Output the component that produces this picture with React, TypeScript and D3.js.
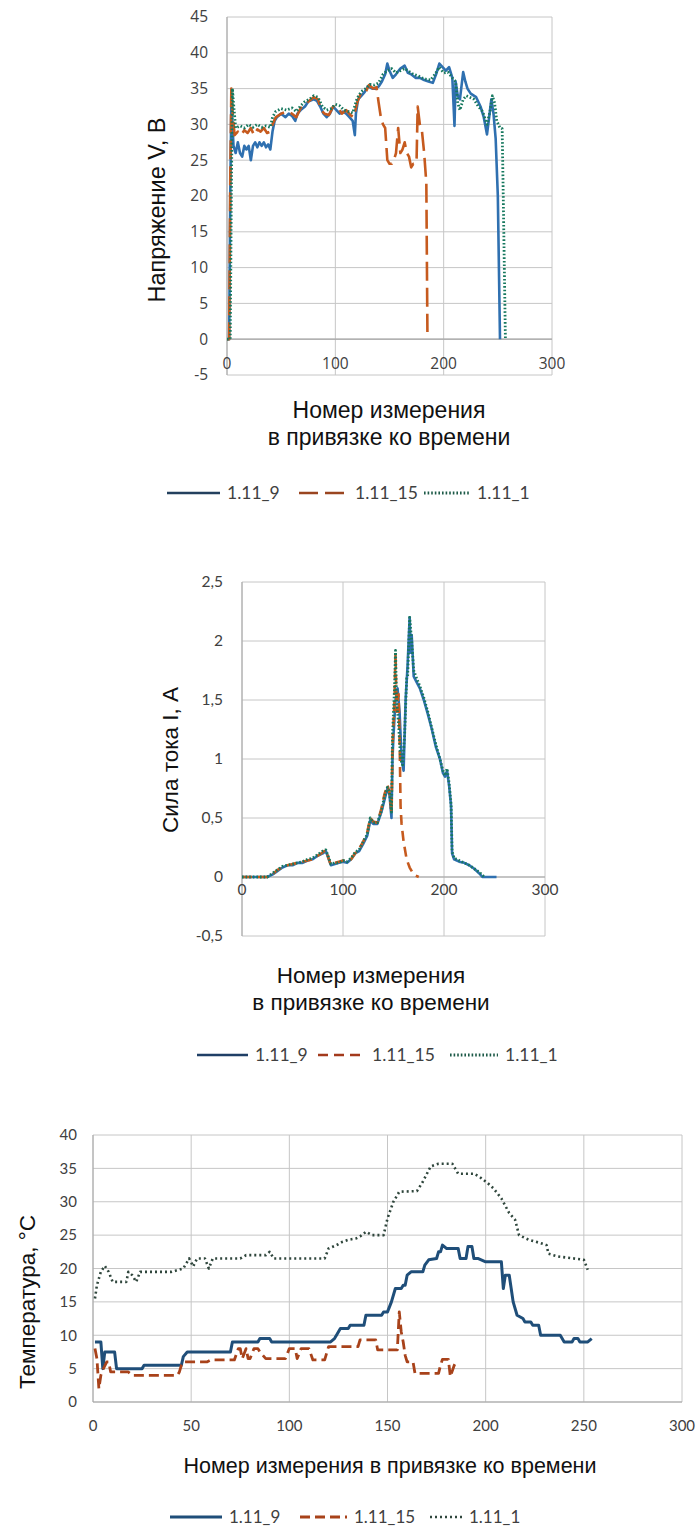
import React from 'react';
import * as d3 from 'd3';

type Pt = [number, number];

// ---------- voltage, chart 1 ----------
const voltage_9: Pt[] = [
  [0, 0], [2, 0], [3, 20], [4, 33], [5, 30], [6, 27], [8, 26], [10, 27.5], [12, 26], [14, 25.5], [16, 27], [18, 26.5],
  [20, 27], [22, 25], [24, 27], [26, 27.5], [28, 26.8], [30, 27.5], [32, 27], [34, 27.5], [36, 26.8], [38, 27.2],
  [40, 26.5], [42, 29], [44, 30.5], [46, 31], [50, 31.5], [54, 31], [57, 31.5], [60, 31.2], [63, 30.5], [65, 31.5],
  [68, 32], [72, 32.5], [75, 33.2], [80, 33.5], [83, 33.3], [86, 32.5], [89, 31.5], [92, 31], [95, 31.5], [98, 32.5],
  [101, 32], [104, 31.5], [107, 31.8], [110, 31.5], [113, 31], [116, 30.5], [118, 28.5], [119, 31.5], [121, 33.5],
  [124, 34], [127, 34.5], [130, 35.3], [134, 35], [137, 35], [140, 35.3], [143, 36], [146, 37], [148, 38.5],
  [150, 37.5], [153, 36.5], [156, 37], [160, 37.8], [164, 38.2], [167, 37.2], [170, 37], [174, 36.5], [178, 36.5],
  [182, 36.2], [186, 36], [190, 35.8], [193, 37], [196, 38.5], [199, 38], [202, 37.5], [205, 38], [208, 36.5],
  [210, 29.8], [211, 36], [213, 34], [215, 33.5], [218, 37.3], [220, 36], [222, 35], [225, 34.3], [230, 33.8],
  [234, 32.5], [237, 31], [240, 28.6], [242, 31], [244, 33.5], [246, 31.5], [248, 28], [250, 20], [251, 10], [252, 0],
];
const voltage_15: Pt[] = [
  [0, 0], [2, 0], [3, 22], [4, 35], [5, 32], [7, 28.5], [10, 29], [13, 28.5], [16, 29.2], [19, 28.8], [22, 29.5],
  [25, 28.5], [28, 29.3], [31, 29], [34, 29.5], [37, 28.8], [40, 29], [42, 30], [45, 31], [50, 31.5], [55, 31.8],
  [60, 31.5], [64, 31], [68, 32.3], [72, 32.8], [76, 33.3], [80, 33.8], [84, 33.5], [87, 32], [90, 31.5], [94, 31.3],
  [98, 32.5], [102, 32.5], [106, 31.5], [110, 32], [114, 31.3], [117, 31], [120, 33], [124, 34.5], [128, 34.5],
  [131, 35.5], [135, 35], [138, 35.2], [140, 33], [142, 31], [144, 30], [146, 29.5], [148, 25], [150, 24.5],
  [152, 24.5], [154, 25], [156, 26], [158, 29.5], [160, 26], [162, 26.5], [164, 27.5], [166, 26], [168, 25.5],
  [170, 24], [172, 24.5], [174, 24.5], [175, 25], [176, 32.5], [178, 30], [180, 29], [182, 26], [184, 21.8], [185, 1],
];
const voltage_1: Pt[] = [
  [0, 0], [3, 0], [4, 20], [5, 35], [6, 33], [8, 29.5], [12, 29.8], [16, 29.5], [20, 30], [24, 29.6], [28, 30],
  [32, 29.6], [36, 29.8], [40, 29.6], [42, 31], [45, 31.8], [50, 32.2], [55, 32], [60, 32.3], [64, 31.8], [68, 32.6],
  [72, 33.2], [76, 33.5], [80, 34], [84, 33.8], [88, 32.5], [92, 32], [96, 32.2], [100, 32.8], [104, 32.6], [108, 32],
  [112, 31.8], [116, 31.6], [120, 33.6], [124, 34.6], [128, 35], [132, 35.6], [136, 35.5], [140, 35.8], [144, 37],
  [148, 37.5], [152, 37.8], [156, 37.2], [160, 37.5], [164, 37.8], [168, 37.4], [172, 37], [176, 36.8], [180, 36.5],
  [184, 36.3], [188, 36.2], [192, 37], [196, 38], [200, 37.2], [204, 37.3], [208, 36.5], [211, 36], [213, 33],
  [215, 32], [218, 33.5], [221, 34], [224, 33.8], [228, 33.5], [232, 32.5], [236, 31.8], [240, 30], [243, 32],
  [245, 34], [247, 33], [249, 30.5], [252, 29.5], [254, 29.4], [255, 20], [256, 10], [257, 0],
];

// ---------- current, chart 2 ----------
const current_9: Pt[] = [
  [0, 0], [25, 0], [30, 0.02], [35, 0.05], [40, 0.08], [45, 0.1], [50, 0.1], [55, 0.12], [60, 0.12], [65, 0.14],
  [70, 0.15], [75, 0.18], [80, 0.2], [83, 0.22], [86, 0.15], [88, 0.1], [92, 0.11], [96, 0.12], [100, 0.13],
  [104, 0.12], [108, 0.15], [112, 0.2], [116, 0.22], [120, 0.28], [124, 0.35], [127, 0.48], [130, 0.45], [134, 0.45],
  [138, 0.55], [141, 0.65], [144, 0.75], [146, 0.7], [148, 0.5], [149, 1.0], [150, 1.2], [152, 1.5], [154, 1.6],
  [156, 1.4], [158, 1.0], [160, 0.9], [162, 1.5], [164, 1.8], [166, 2.2], [167, 1.9], [168, 2.05], [170, 1.7],
  [173, 1.65], [176, 1.6], [180, 1.5], [184, 1.38], [188, 1.25], [192, 1.1], [196, 1.0], [199, 0.88], [201, 0.85],
  [203, 0.9], [205, 0.78], [207, 0.6], [208, 0.2], [210, 0.15], [215, 0.13], [220, 0.12], [225, 0.1], [230, 0.07],
  [235, 0.03], [238, 0], [252, 0],
];
const current_15: Pt[] = [
  [0, 0], [25, 0], [30, 0.02], [35, 0.06], [40, 0.08], [45, 0.1], [50, 0.11], [55, 0.12], [60, 0.13], [65, 0.14],
  [70, 0.15], [75, 0.18], [80, 0.21], [83, 0.23], [86, 0.15], [88, 0.1], [92, 0.12], [96, 0.13], [100, 0.14],
  [104, 0.13], [108, 0.15], [112, 0.2], [116, 0.24], [120, 0.3], [124, 0.38], [127, 0.5], [130, 0.47], [134, 0.46],
  [138, 0.58], [141, 0.7], [144, 0.78], [146, 0.72], [148, 0.55], [149, 1.1], [151, 1.5], [152, 1.9], [153, 1.4],
  [155, 1.55], [156, 1.2], [157, 0.6], [158, 0.45], [160, 0.3], [163, 0.15], [166, 0.08], [170, 0.02], [175, 0],
];
const current_1: Pt[] = [
  [0, 0], [25, 0], [30, 0.03], [35, 0.06], [40, 0.09], [45, 0.1], [50, 0.11], [55, 0.12], [60, 0.13], [65, 0.15],
  [70, 0.16], [75, 0.19], [80, 0.22], [83, 0.23], [86, 0.16], [88, 0.11], [92, 0.12], [96, 0.12], [100, 0.14],
  [104, 0.13], [108, 0.16], [112, 0.21], [116, 0.23], [120, 0.3], [124, 0.36], [127, 0.5], [130, 0.46], [134, 0.46],
  [138, 0.56], [141, 0.68], [144, 0.76], [146, 0.72], [148, 0.55], [149, 1.2], [151, 1.6], [152, 1.92], [153, 1.5],
  [155, 1.3], [157, 1.0], [159, 0.95], [161, 1.2], [163, 1.68], [164, 1.7], [166, 2.2], [168, 2.0], [170, 1.75],
  [173, 1.68], [176, 1.62], [180, 1.52], [184, 1.4], [188, 1.26], [192, 1.12], [196, 1.0], [199, 0.9], [201, 0.86],
  [203, 0.92], [205, 0.8], [207, 0.62], [208, 0.22], [210, 0.16], [215, 0.14], [220, 0.12], [225, 0.1], [230, 0.07],
  [235, 0.04], [240, 0],
];

// ---------- temperature, chart 3 ----------
const temp_9: Pt[] = [
  [1, 9], [4, 9], [5, 5], [6, 7.5], [11, 7.5], [12, 5], [25, 5], [26, 5.5], [45, 5.5], [46, 6.8], [48, 7.5], [70, 7.5],
  [71, 9], [84, 9], [85, 9.5], [90, 9.5], [91, 9], [121, 9], [123, 9.5], [124, 10], [126, 11], [130, 11], [131, 11.5],
  [138, 11.5], [139, 13], [147, 13], [148, 13.5], [150, 13.5], [152, 15], [154, 17], [157, 17], [158, 17.5],
  [159, 17.5], [160, 19], [162, 19.5], [168, 19.5], [169, 20.5], [171, 21.3], [175, 21.5], [176, 22.5], [177, 22.5],
  [178, 23.5], [180, 23], [186, 23], [187, 21.5], [190, 21.5], [191, 23.3], [193, 23.3], [194, 21.5], [196, 21.5],
  [200, 21], [208, 21], [209, 17], [210, 19], [212, 19], [213, 17], [214, 15], [216, 13], [219, 12.5], [220, 12],
  [223, 12], [224, 11.5], [227, 11.5], [228, 10], [238, 10], [240, 9], [244, 9], [245, 9.5], [247, 9.5], [248, 9],
  [252, 9], [254, 9.5],
];
const temp_15: Pt[] = [
  [1, 8], [2, 6.5], [3, 2], [4, 4], [5, 4.8], [7, 6], [8, 6], [9, 4.5], [18, 4.5], [20, 4], [43, 4], [44, 4.5],
  [45, 5.5], [46, 6], [58, 6], [60, 6.3], [72, 6.3], [74, 8], [75, 8], [76, 6.5], [78, 8], [79, 6.5], [80, 6.5],
  [82, 8], [84, 8], [85, 7.5], [88, 6.5], [98, 6.5], [100, 8], [103, 8], [104, 6.5], [106, 8], [110, 8], [112, 6.3],
  [118, 6.3], [120, 8.3], [135, 8.3], [136, 9.3], [144, 9.3], [145, 7.8], [155, 7.8], [156, 13.5], [157, 10.5],
  [158, 9], [159, 7], [160, 6], [163, 6], [164, 4.3], [176, 4.3], [177, 5.5], [178, 6.4], [181, 6.4], [182, 3.8],
  [184, 5.5], [185, 6],
];
const temp_1: Pt[] = [
  [1, 15.5], [2, 17.5], [4, 19.5], [6, 20.4], [8, 19.5], [10, 18], [17, 18], [18, 19.5], [20, 19], [22, 18],
  [24, 19.5], [40, 19.5], [46, 20], [49, 21.5], [51, 20.3], [53, 21.5], [57, 21.5], [59, 20], [61, 21.5], [75, 21.5],
  [78, 22], [88, 22], [90, 22.5], [92, 21.5], [118, 21.5], [120, 23], [124, 23.5], [127, 24], [130, 24.3], [134, 24.5],
  [136, 24.8], [139, 25.5], [142, 25], [148, 25], [150, 27.5], [153, 30], [156, 31.5], [165, 31.6], [168, 33],
  [172, 35.3], [176, 35.7], [183, 35.7], [186, 34.2], [194, 34.2], [197, 33.7], [201, 32.8], [204, 32], [208, 30.5],
  [212, 28.3], [215, 27.3], [217, 25], [222, 24.3], [228, 23.8], [231, 23.5], [232, 22.2], [237, 21.8], [245, 21.5],
  [250, 21.3], [252, 19.8],
];

const seriesNames = ['1.11_9', '1.11_15', '1.11_1'];
const voltTicks = [-5, 0, 5, 10, 15, 20, 25, 30, 35, 40, 45];
const currentTicks = [-0.5, 0, 0.5, 1, 1.5, 2, 2.5];
const tempTicks = [0, 5, 10, 15, 20, 25, 30, 35, 40];
const xTicksWide = [0, 100, 200, 300];
const xTicksTemp = [0, 50, 100, 150, 200, 250, 300];

type LineStyle = { color: string; width: number; dash?: string; legendColor?: string };

const stylesVolt: LineStyle[] = [
  { color: '#2f70b0', width: 2.6, legendColor: '#23405e' },
  { color: '#c65a1e', width: 2.6, dash: '19 7', legendColor: '#9a4520' },
  { color: '#16785e', width: 2.8, dash: '1.6 2', legendColor: '#1d5a48' },
];
const stylesCurrent: LineStyle[] = [
  { color: '#2f70b0', width: 2.6, legendColor: '#1f3f66' },
  { color: '#c65a1e', width: 2.6, dash: '10 6', legendColor: '#a33a1c' },
  { color: '#16785e', width: 2.8, dash: '1.6 2', legendColor: '#1d5a48' },
];
const stylesTemp: LineStyle[] = [
  { color: '#1f4e79', width: 3 },
  { color: '#a8421a', width: 2.8, dash: '10 5' },
  { color: '#2f463c', width: 2.6, dash: '2 3' },
];

const comma = (v: number) => String(v).replace('.', ',');
const axisFont = '"Liberation Sans", Arial, sans-serif';
const tickFontA = '"Open Sans", Arial, sans-serif';
const calibriLike = 'Lato, "Open Sans", sans-serif';

interface ChartProps {
  series: Pt[][];
  styles: LineStyle[];
  xRange: [number, number];
  yRange: [number, number]; // pixel top, bottom
  yDomain: [number, number];
  yTicks: number[];
  xTicks: number[];
  yFmt?: (v: number) => string;
  tickFont: string;
  tickSize: number;
  yLabelX: number;
  xLabelY: number;
  yTitle: string;
  yTitleX: number;
  yTitleY: number;
  yTitleSize: number;
  xTitleSize: number;
  xTitle: string[];
  xTitleX: number;
  xTitleY: number;
  xTitleGap: number;
  legendY: number;
  legendX: number[];
  sampleLen: number[];
  legendSize: number;
}

function Chart(p: ChartProps) {
  const x = d3.scaleLinear().domain([0, 300]).range(p.xRange);
  const y = d3.scaleLinear().domain(p.yDomain).range([p.yRange[1], p.yRange[0]]);
  const line = d3.line<Pt>().x(d => x(d[0])).y(d => y(d[1]));
  const fmt = p.yFmt ?? ((v: number) => String(v));
  return (
    <g>
      {p.yTicks.map(t => (
        <line key={'h' + t} x1={p.xRange[0]} x2={p.xRange[1]} y1={y(t)} y2={y(t)} stroke="#c6c6c6" strokeWidth={1} />
      ))}
      {p.xTicks.map(t => (
        <line key={'v' + t} x1={x(t)} x2={x(t)} y1={p.yRange[0]} y2={p.yRange[1]} stroke="#c6c6c6" strokeWidth={1} />
      ))}
      <line x1={p.xRange[0]} x2={p.xRange[1]} y1={y(0)} y2={y(0)} stroke="#a6a6a6" strokeWidth={1.2} />
      <line x1={x(0)} x2={x(0)} y1={p.yRange[0]} y2={p.yRange[1]} stroke="#a6a6a6" strokeWidth={1} />
      {p.yTicks.map(t => (
        <text key={'yl' + t} x={p.yLabelX} y={y(t)} dy="0.35em" textAnchor="end" fontFamily={p.tickFont}
          fontSize={p.tickSize} fill="#404040">{fmt(t)}</text>
      ))}
      {p.xTicks.map(t => (
        <text key={'xl' + t} x={x(t)} y={y(0) + p.xLabelY} dy="0.35em" textAnchor="middle" fontFamily={p.tickFont}
          fontSize={p.tickSize} fill="#404040">{t}</text>
      ))}
      {p.series.map((s, i) => (
        <path key={'s' + i} d={line(s) ?? ''} fill="none" stroke={p.styles[i].color} strokeWidth={p.styles[i].width}
          strokeDasharray={p.styles[i].dash} strokeLinejoin="round" />
      ))}
      <text transform={`translate(${p.yTitleX},${p.yTitleY}) rotate(-90)`} textAnchor="middle" dy="0.35em"
        fontFamily={axisFont} fontSize={p.yTitleSize} fill="#111">{p.yTitle}</text>
      {p.xTitle.map((t, i) => (
        <text key={'xt' + i} x={p.xTitleX} y={p.xTitleY + i * p.xTitleGap} dy="0.35em" textAnchor="middle"
          fontFamily={axisFont} fontSize={p.xTitleSize} fill="#111">{t}</text>
      ))}
      {seriesNames.map((n, i) => {
        const st = p.styles[i];
        const lx = p.legendX[i];
        return (
          <g key={'lg' + i}>
            <line x1={lx} x2={lx + p.sampleLen[i]} y1={p.legendY} y2={p.legendY} stroke={st.legendColor ?? st.color}
              strokeWidth={st.width} strokeDasharray={st.dash} />
            <text x={lx + p.sampleLen[i] + 7} y={p.legendY} dy="0.35em" fontFamily={calibriLike} fontSize={p.legendSize}
              fill="#404040">{n}</text>
          </g>
        );
      })}
    </g>
  );
}

export default function App() {
  return (
    <svg width={699} height={1528} style={{ position: 'absolute', left: 0, top: 0, background: '#fff' }}>
      <Chart
        series={[voltage_9, voltage_15, voltage_1]}
        styles={stylesVolt}
        xRange={[227, 552]}
        yRange={[17, 375]}
        yDomain={[-5, 45]}
        yTicks={voltTicks}
        xTicks={xTicksWide}
        tickFont={tickFontA}
        tickSize={15.5}
        yLabelX={208}
        xLabelY={24}
        yTitle="Напряжение V, В"
        yTitleX={157}
        yTitleY={210}
        yTitleSize={23.5}
        xTitleSize={23}
        xTitle={['Номер измерения', 'в привязке ко времени']}
        xTitleX={389}
        xTitleY={410}
        xTitleGap={27}
        legendY={493}
        legendX={[167, 299, 424]}
        sampleLen={[53, 49, 46]}
        legendSize={17.5}
      />
      <Chart
        series={[current_9, current_15, current_1]}
        styles={stylesCurrent}
        xRange={[242, 545]}
        yRange={[582, 936]}
        yDomain={[-0.5, 2.5]}
        yTicks={currentTicks}
        xTicks={xTicksWide}
        yFmt={comma}
        tickFont={calibriLike}
        tickSize={15.5}
        yLabelX={223}
        xLabelY={13}
        yTitle="Сила тока I, А"
        yTitleX={170}
        yTitleY={760}
        yTitleSize={22.5}
        xTitleSize={22.5}
        xTitle={['Номер измерения', 'в привязке ко времени']}
        xTitleX={371}
        xTitleY={975}
        xTitleGap={27}
        legendY={1055}
        legendX={[197, 318, 450]}
        sampleLen={[51, 47, 48]}
        legendSize={17.5}
      />
      <Chart
        series={[temp_9, temp_15, temp_1]}
        styles={stylesTemp}
        xRange={[93, 682]}
        yRange={[1135, 1402]}
        yDomain={[0, 40]}
        yTicks={tempTicks}
        xTicks={xTicksTemp}
        tickFont={calibriLike}
        tickSize={15}
        yLabelX={77}
        xLabelY={24}
        yTitle="Температура, °С"
        yTitleX={27}
        yTitleY={1302}
        yTitleSize={22.5}
        xTitleSize={21.5}
        xTitle={['Номер измерения в привязке ко времени']}
        xTitleX={390}
        xTitleY={1465}
        xTitleGap={0}
        legendY={1517}
        legendX={[170, 300, 430]}
        sampleLen={[52, 47, 32]}
        legendSize={17}
      />
    </svg>
  );
}
